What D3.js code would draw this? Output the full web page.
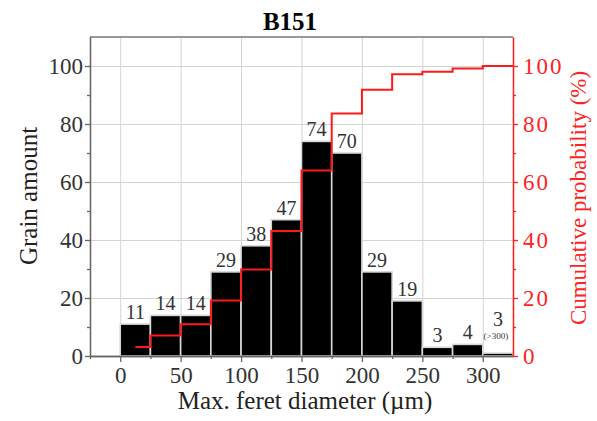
<!DOCTYPE html>
<html><head>
<meta charset="utf-8">
<title>B151</title>
<script src="https://cdn.jsdelivr.net/npm/d3@7/dist/d3.min.js"></script>
<style>
  body { margin: 0; background: #fff; }
  svg text { font-family: "Liberation Serif", "DejaVu Serif", serif; }
  .grid line { stroke: #d4d4d4; stroke-width: 1; }
  .grid path { display: none; }
  .ax-black path, .ax-black line { stroke: #666; stroke-width: 1.3; }
  .ax-black text { fill: #333; font-size: 23px; }
  .ax-red path, .ax-red line { stroke: #f22; stroke-width: 1.3; }
  .ax-red text { fill: #f22; font-size: 23px; letter-spacing: 2px; }
</style>
</head>
<body>
<svg id="chart" width="597" height="421"></svg>
<script>
// bins of 25 um, label counts and drawn bar heights (last bin is ">300")
var binStart = [0, 25, 50, 75, 100, 125, 150, 175, 200, 225, 250, 275, 300]
var counts   = [11, 14, 14, 29, 38, 47, 74, 70, 29, 19, 3, 4, 3]
var barHeight = [11, 14, 14, 29, 38, 47, 74, 70, 29, 19, 3, 4, 1]
var binWidth = 25
var xTicks = [0, 50, 100, 150, 200, 250, 300]
var yTicks = [0, 20, 40, 60, 80, 100]

var svg = d3.select('#chart')
var m = { left: 90, right: 513, top: 37, bottom: 356 }

var x = d3.scaleLinear().domain([-25, 325]).range([m.left, m.right])
var y = d3.scaleLinear().domain([0, 110]).range([m.bottom, m.top])
var yR = d3.scaleLinear().domain([0, 110]).range([m.bottom, m.top])

// grid
svg.append('g').classed('grid', true)
  .attr('transform', 'translate(0,' + m.bottom + ')')
  .call(d3.axisBottom(x).tickValues(xTicks).tickSize(-(m.bottom - m.top)).tickFormat(''))
svg.append('g').classed('grid', true)
  .attr('transform', 'translate(' + m.left + ',0)')
  .call(d3.axisLeft(y).tickValues(yTicks.slice(1)).tickSize(-(m.right - m.left)).tickFormat(''))

// top frame line
svg.append('line')
  .attr('x1', m.left).attr('x2', m.right)
  .attr('y1', m.top).attr('y2', m.top)
  .attr('stroke', '#777').attr('stroke-width', 1.5)

// bars
svg.selectAll('rect.bar').data(binStart).enter().append('rect')
  .attr('class', 'bar')
  .attr('x', function(d) { return x(d) })
  .attr('width', function(d) { return x(d + binWidth) - x(d) })
  .attr('y', function(d, i) { return y(barHeight[i]) })
  .attr('height', function(d, i) { return y(0) - y(barHeight[i]) })
  .attr('fill', '#000')
  .attr('stroke', '#d8d8d8')
  .attr('stroke-width', 1.6)

// count labels
var last = binStart.length - 1
svg.selectAll('text.cnt').data(binStart).enter().append('text')
  .attr('class', 'cnt')
  .attr('x', function(d) { return x(d + binWidth / 2) })
  .attr('y', function(d, i) { return y(barHeight[i]) - (i == last ? 27 : 5) })
  .attr('text-anchor', 'middle')
  .attr('fill', '#333')
  .style('font-size', '20px')
  .text(function(d, i) { return counts[i] })
svg.append('text')
  .attr('x', x(binStart[last] + binWidth / 2) - 2).attr('y', y(barHeight[last]) - 14)
  .attr('text-anchor', 'middle')
  .attr('fill', '#333')
  .style('font-size', '9px')
  .text('(>300)')

// cumulative probability
var total = d3.sum(counts)
var cum = d3.cumsum(counts).map(function(c) { return c / total * 100 })
var stepPts = binStart.map(function(d, i) {
  return [i == 0 ? d + binWidth / 2 : d, cum[i]]
})
stepPts.push([binStart[last] + binWidth, cum[cum.length - 1]])
var line = d3.line()
  .x(function(p) { return x(p[0]) })
  .y(function(p) { return yR(p[1]) })
  .curve(d3.curveStepAfter)
svg.append('path')
  .attr('d', line(stepPts))
  .attr('fill', 'none')
  .attr('stroke', '#ff1a1a')
  .attr('stroke-width', 2)

// axes
svg.append('g').classed('ax-black', true)
  .attr('transform', 'translate(0,' + m.bottom + ')')
  .call(d3.axisBottom(x).tickValues(xTicks).tickSize(6).tickPadding(5).tickSizeOuter(0))
svg.append('g').classed('ax-black', true)
  .attr('transform', 'translate(0,' + m.bottom + ')')
  .call(d3.axisBottom(x).tickValues([-25, 25, 75, 125, 175, 225, 275]).tickSize(3).tickFormat('').tickSizeOuter(0))
svg.append('g').classed('ax-black', true)
  .attr('transform', 'translate(' + m.left + ',0)')
  .call(d3.axisLeft(y).tickValues(yTicks).tickSize(5).tickPadding(2).tickSizeOuter(0))
svg.append('g').classed('ax-black', true)
  .attr('transform', 'translate(' + m.left + ',0)')
  .call(d3.axisLeft(y).tickValues([10, 30, 50, 70, 90]).tickSize(3).tickFormat('').tickSizeOuter(0))
svg.append('g').classed('ax-red', true)
  .attr('transform', 'translate(' + m.right + ',0)')
  .call(d3.axisRight(yR).tickValues(yTicks).tickSize(5).tickPadding(5).tickSizeOuter(0))
svg.append('g').classed('ax-red', true)
  .attr('transform', 'translate(' + m.right + ',0)')
  .call(d3.axisRight(yR).tickValues([10, 30, 50, 70, 90]).tickSize(3).tickFormat('').tickSizeOuter(0))

// titles
svg.append('text')
  .attr('x', 290).attr('y', 30)
  .attr('text-anchor', 'middle')
  .style('font-size', '25px').style('font-weight', 'bold')
  .text('B151')
svg.append('text')
  .attr('x', 305).attr('y', 409)
  .attr('text-anchor', 'middle')
  .attr('fill', '#222')
  .style('font-size', '25px')
  .text('Max. feret diameter (\u00b5m)')
svg.append('text')
  .attr('transform', 'translate(37,196) rotate(-90)')
  .attr('text-anchor', 'middle')
  .attr('fill', '#222')
  .style('font-size', '25px')
  .text('Grain amount')
svg.append('text')
  .attr('transform', 'translate(586,198) rotate(-90)')
  .attr('text-anchor', 'middle')
  .attr('fill', '#f22')
  .style('font-size', '23px')
  .text('Cumulative probability (%)')
</script>
</body>
</html>
